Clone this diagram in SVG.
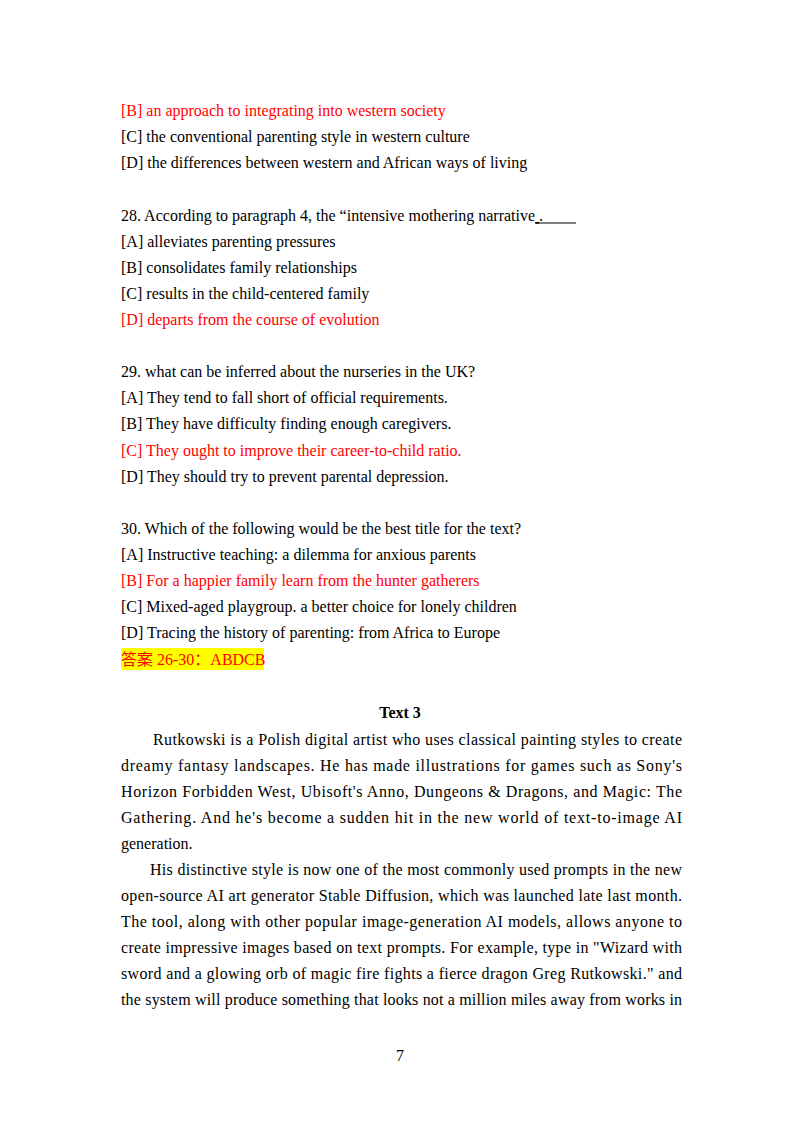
<svg xmlns="http://www.w3.org/2000/svg" width="800" height="1130" viewBox="0 0 800 1130">
<style>
text{font-family:"Liberation Serif","Noto Sans CJK SC",serif;font-size:16px;fill:#000}
.r{fill:#ff0000}
</style>
<rect width="800" height="1130" fill="#fff"/>
<text class="r" x="121" y="116">[B] an approach to integrating into western society</text>
<text x="121" y="142">[C] the conventional parenting style in western culture</text>
<text x="121" y="168">[D] the differences between western and African ways of living</text>
<text x="121" y="221">28. According to paragraph 4, the “intensive mothering narrative<tspan text-decoration="underline">     </tspan>.</text>
<line x1="536" y1="223" x2="576" y2="223" stroke="#000" stroke-width="1"/>
<text x="121" y="247">[A] alleviates parenting pressures</text>
<text x="121" y="273">[B] consolidates family relationships</text>
<text x="121" y="299">[C] results in the child-centered family</text>
<text class="r" x="121" y="325">[D] departs from the course of evolution</text>
<text x="121" y="377">29. what can be inferred about the nurseries in the UK?</text>
<text x="121" y="403">[A] They tend to fall short of official requirements.</text>
<text x="121" y="429">[B] They have difficulty finding enough caregivers.</text>
<text class="r" x="121" y="456">[C] They ought to improve their career-to-child ratio.</text>
<text x="121" y="482">[D] They should try to prevent parental depression.</text>
<text x="121" y="534">30. Which of the following would be the best title for the text?</text>
<text x="121" y="560">[A] Instructive teaching: a dilemma for anxious parents</text>
<text class="r" x="121" y="586">[B] For a happier family learn from the hunter gatherers</text>
<text x="121" y="612">[C] Mixed-aged playgroup. a better choice for lonely children</text>
<text x="121" y="638">[D] Tracing the history of parenting: from Africa to Europe</text>
<rect x="121" y="648" width="143" height="22" fill="#ffff00"/>
<text class="r" x="121" y="665">答案 26-30：ABDCB</text>
<text x="400" y="718" text-anchor="middle" font-weight="bold">Text 3</text>
<text x="153" y="745" textLength="529" lengthAdjust="spacing">Rutkowski is a Polish digital artist who uses classical painting styles to create</text>
<text x="121" y="771" textLength="561" lengthAdjust="spacing">dreamy fantasy landscapes. He has made illustrations for games such as Sony's</text>
<text x="121" y="797" textLength="561" lengthAdjust="spacing">Horizon Forbidden West, Ubisoft's Anno, Dungeons &amp; Dragons, and Magic: The</text>
<text x="121" y="823" textLength="561" lengthAdjust="spacing">Gathering. And he's become a sudden hit in the new world of text-to-image AI</text>
<text x="121" y="849">generation.</text>
<text x="150" y="875" textLength="532" lengthAdjust="spacing">His distinctive style is now one of the most commonly used prompts in the new</text>
<text x="121" y="901" textLength="561" lengthAdjust="spacing">open-source AI art generator Stable Diffusion, which was launched late last month.</text>
<text x="121" y="927" textLength="561" lengthAdjust="spacing">The tool, along with other popular image-generation AI models, allows anyone to</text>
<text x="121" y="953" textLength="561" lengthAdjust="spacing">create impressive images based on text prompts. For example, type in "Wizard with</text>
<text x="121" y="979" textLength="561" lengthAdjust="spacing">sword and a glowing orb of magic fire fights a fierce dragon Greg Rutkowski." and</text>
<text x="121" y="1005" textLength="561" lengthAdjust="spacing">the system will produce something that looks not a million miles away from works in</text>
<text x="400" y="1061" text-anchor="middle" font-size="12">7</text>
</svg>
